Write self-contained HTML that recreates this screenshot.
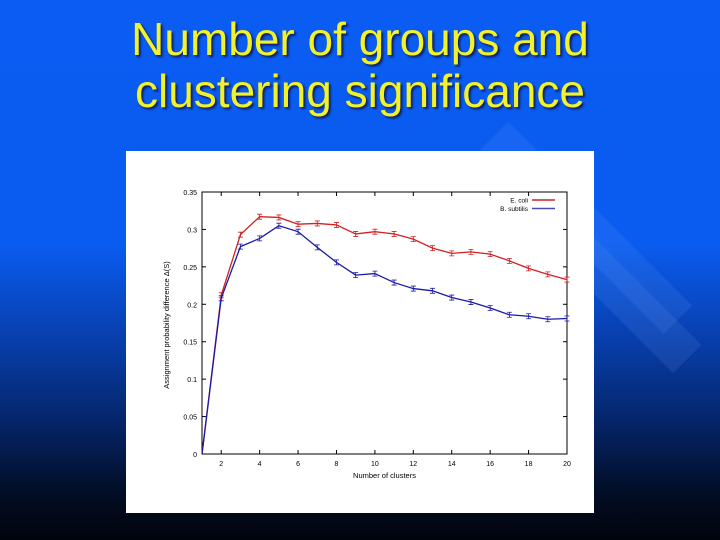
<!DOCTYPE html>
<html><head><meta charset="utf-8">
<style>
html,body{margin:0;padding:0;}
body{width:720px;height:540px;overflow:hidden;position:relative;
background:linear-gradient(180deg,#0a5cf2 0%,#0a5cf0 45%,#0840b0 62%,#05256a 78%,#020c22 92%,#01040c 100%);
font-family:"Liberation Sans",sans-serif;}
.stripe{position:absolute;background:rgba(120,170,255,0.12);transform-origin:0 0;}
#title{position:absolute;left:0;top:13px;width:720px;text-align:center;color:#f2f22a;
font-family:"Liberation Sans",sans-serif;font-size:46px;line-height:52px;
text-shadow:2px 2px 2px #102060;}
#card{position:absolute;left:126px;top:151px;width:468px;height:362px;background:#fff;}
</style></head><body>
<div class="stripe" style="left:480px;top:150px;width:40px;height:260px;transform:rotate(-45deg);"></div>
<div class="stripe" style="left:560px;top:260px;width:40px;height:160px;transform:rotate(-45deg);"></div>
<div id="title">Number of groups and<br>clustering significance</div>
<div id="card">
<svg id="chart" width="468" height="362"></svg>
</div>
<script>
const categories=[1,2,3,4,5,6,7,8,9,10,11,12,13,14,15,16,17,18,19,20];
const ecoli=[0,0.212,0.293,0.317,0.316,0.307,0.308,0.306,0.294,0.297,0.294,0.287,0.275,0.268,0.270,0.267,0.258,0.248,0.240,0.233];
const bsub=[0,0.208,0.277,0.288,0.305,0.297,0.276,0.256,0.239,0.241,0.229,0.221,0.218,0.209,0.203,0.195,0.186,0.184,0.180,0.181];
const yTicks=[0,0.05,0.1,0.15,0.2,0.25,0.3,0.35];
const yTickLabels=["0","0.05","0.1","0.15","0.2","0.25","0.3","0.35"];
const xTicks=[2,4,6,8,10,12,14,16,18,20];

const NS="http://www.w3.org/2000/svg";
const svg=document.getElementById('chart');
const L=76,R=441,T=41,B=303;
function xs(v){return L+(v-1)/(19)*(R-L);}
function ys(v){return B-v/0.35*(B-T);}
function mk(tag,attrs,parent){const e=document.createElementNS(NS,tag);for(const k in attrs)e.setAttribute(k,attrs[k]);(parent||svg).appendChild(e);return e;}

const frame=mk('rect',{x:L,y:T,width:R-L,height:B-T,fill:'none',stroke:'#000','stroke-width':1});


yTicks.forEach((v,i)=>{
  const y=ys(v);
  const t=mk('line',{x1:L,x2:L+4,y1:y,y2:y,stroke:'#000'});
  
  
  mk('line',{x1:R-4,x2:R,y1:y,y2:y,stroke:'#000'});
  const tx=mk('text',{x:L-5,y:y+3,'text-anchor':'end','font-size':7,fill:'#000'});
  tx.textContent=yTickLabels[i];
  
  
});
xTicks.forEach(v=>{
  const x=xs(v);
  const t=mk('line',{x1:x,x2:x,y1:B,y2:B-4,stroke:'#000'});
  
  
  mk('line',{x1:x,x2:x,y1:T,y2:T+4,stroke:'#000'});
  const tx=mk('text',{x:x,y:B+12,'text-anchor':'middle','font-size':7,fill:'#000'});
  tx.textContent=String(v);
  
  
});
const xt=mk('text',{x:(L+R)/2,y:B+24,'text-anchor':'middle','font-size':7.5,fill:'#000'});
xt.textContent='Number of clusters';


const yt=mk('text',{x:0,y:0,'text-anchor':'middle','font-size':7.5,fill:'#000',transform:`translate(43,${(T+B)/2+2}) rotate(-90)`});
yt.textContent='Assignment probability difference \u0394(S)';



function series(vals,color,name){
  const pts=vals.map((v,i)=>xs(categories[i])+','+ys(v)).join(' ');
  const pl=mk('polyline',{points:pts,fill:'none',stroke:color,'stroke-width':1.3});
  
  
  vals.forEach((v,i)=>{
    if(i===0)return;
    const x=xs(categories[i]),y=ys(v);
    const e=mk('path',{d:`M${x-2.5},${y-2.5}H${x+2.5}M${x},${y-2.5}V${y+2.5}M${x-2.5},${y+2.5}H${x+2.5}`,stroke:color,'stroke-width':0.8,fill:'none'});
    
    
  });
}
series(ecoli,'#d42020','ecoli');
series(bsub,'#1a1aa8','bsubtilis');

const lg=[['E. coli','#d42020'],['B. subtilis','#4a4ab8']];
lg.forEach((d,i)=>{
  const y=T+8+i*8.5;
  const g=mk('g',{});
  
  
  const t=mk('text',{x:402,y:y+2.5,'text-anchor':'end','font-size':6.5,fill:'#000'},g);
  t.textContent=d[0];
  mk('line',{x1:406,x2:429,y1:y,y2:y,stroke:d[1],'stroke-width':1.5},g);
});
</script>
</body></html>
